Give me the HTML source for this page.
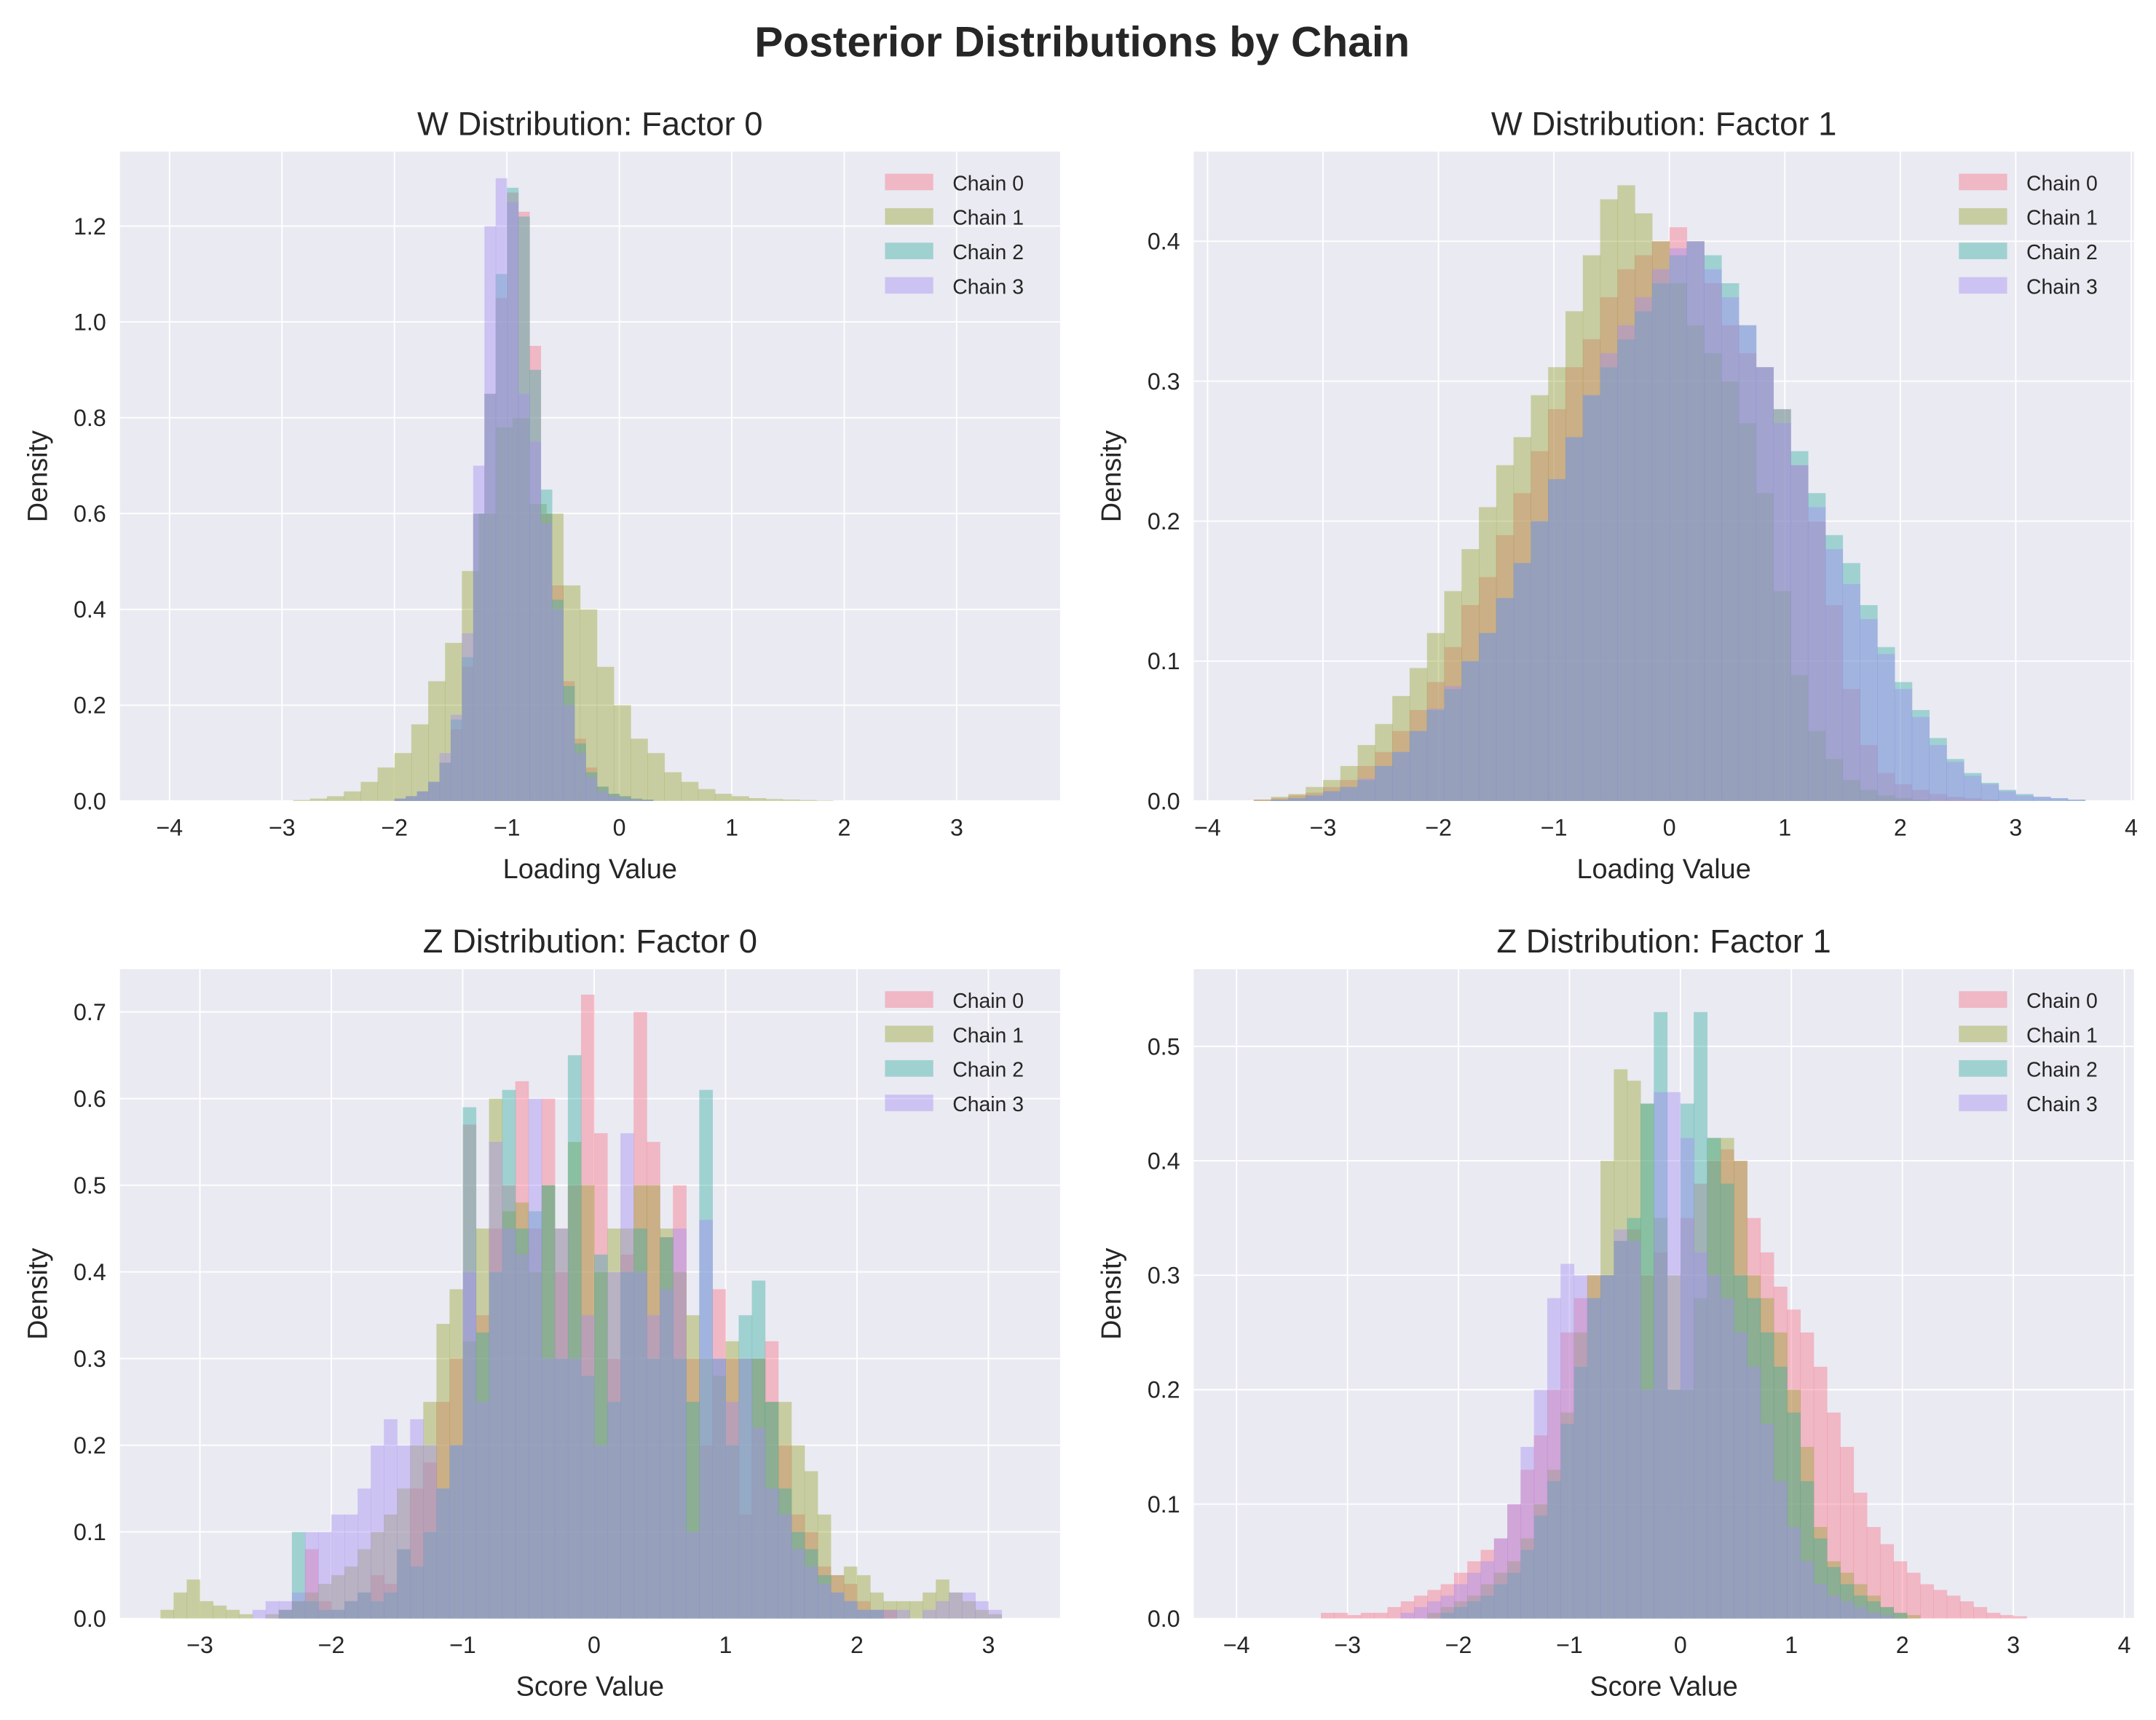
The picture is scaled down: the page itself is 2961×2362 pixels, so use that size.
<!DOCTYPE html>
<html><head><meta charset="utf-8"><style>
html,body{margin:0;padding:0;background:#fff;}
svg{display:block;font-family:"Liberation Sans",sans-serif;}
</style></head><body>
<svg id="chart" width="2961" height="2362" viewBox="0 0 1564 1247.6" xmlns="http://www.w3.org/2000/svg">
<rect width="1564" height="1248" fill="#fff"/>
<text x="785" y="41" text-anchor="middle" font-size="31" font-weight="bold" fill="#262626">Posterior Distributions by Chain</text>
</svg>
<script>
// ---- data ----
const chainNames = ["Chain 0","Chain 1","Chain 2","Chain 3"];
const chainColors = ["#f77189","#97a431","#36ada4","#a48cf4"];
// Panel 1: W Factor 0
const p1Start = [-2.0,-2.9,-2.0,-2.0];
const p1Width = [0.1,0.15,0.1,0.1];
const p1c0 = [0.005,0.01,0.02,0.04,0.08,0.15,0.28,0.6,0.85,1.05,1.27,1.23,0.95,0.6,0.45,0.25,0.13,0.07,0.03,0.015,0.01,0.005,0.003];
const p1c1 = [0.002,0.005,0.01,0.02,0.04,0.07,0.1,0.16,0.25,0.33,0.48,0.6,0.78,0.8,0.62,0.6,0.45,0.4,0.28,0.2,0.13,0.1,0.06,0.04,0.025,0.015,0.01,0.006,0.004,0.003,0.002,0.001];
const p1c2 = [0.005,0.01,0.02,0.04,0.08,0.17,0.3,0.6,0.85,1.1,1.28,1.22,0.9,0.65,0.42,0.24,0.12,0.06,0.03,0.015,0.01,0.005,0.003];
const p1c3 = [0.005,0.01,0.02,0.04,0.1,0.18,0.35,0.7,1.2,1.3,1.25,0.85,0.75,0.58,0.4,0.2,0.1,0.05,0.02,0.01,0.005,0.003,0.002];
// Panel 2: W Factor 1
const p2Start = [-3.6,-3.6,-3.6,-3.6];
const p2Width = [0.15,0.15,0.15,0.15];
const p2c0 = [0.001,0.002,0.004,0.006,0.01,0.015,0.025,0.035,0.05,0.065,0.085,0.11,0.14,0.16,0.19,0.22,0.25,0.28,0.31,0.33,0.36,0.38,0.39,0.40,0.41,0.40,0.37,0.34,0.32,0.31,0.28,0.24,0.20,0.14,0.08,0.04,0.02,0.012,0.008,0.005,0.003,0.002,0.001,0,0,0,0,0];
const p2c1 = [0.001,0.003,0.005,0.01,0.015,0.025,0.04,0.055,0.075,0.095,0.12,0.15,0.18,0.21,0.24,0.26,0.29,0.31,0.35,0.39,0.43,0.44,0.42,0.40,0.37,0.34,0.32,0.30,0.27,0.22,0.15,0.09,0.05,0.03,0.015,0.008,0.004,0.002,0.001,0,0,0,0,0,0,0,0,0];
const p2c2 = [0,0.001,0.002,0.004,0.007,0.01,0.015,0.025,0.035,0.05,0.065,0.08,0.10,0.12,0.145,0.17,0.20,0.23,0.26,0.29,0.31,0.33,0.35,0.37,0.39,0.40,0.39,0.37,0.34,0.31,0.28,0.25,0.22,0.19,0.17,0.14,0.11,0.085,0.065,0.045,0.03,0.02,0.013,0.008,0.005,0.003,0.002,0.001];
const p2c3 = [0,0.001,0.002,0.004,0.007,0.01,0.016,0.025,0.035,0.05,0.066,0.082,0.10,0.12,0.145,0.17,0.20,0.23,0.26,0.29,0.32,0.34,0.36,0.38,0.395,0.40,0.38,0.36,0.34,0.31,0.27,0.24,0.21,0.18,0.155,0.13,0.105,0.08,0.06,0.04,0.028,0.018,0.012,0.007,0.004,0.003,0.002,0.001];
// Panel 3: Z Factor 0
const p3Start = [-3.3,-3.3,-3.3,-3.3];
const p3Width = [0.1,0.1,0.1,0.1];
const p3c0 = [0,0,0,0,0,0,0,0,0,0.01, 0.02,0.08,0.02,0.01,0.02,0.03,0.05,0.04,0.08,0.15, 0.18,0.25,0.3,0.57,0.35,0.45,0.5,0.62,0.45,0.6, 0.4,0.5,0.72,0.56,0.3,0.42,0.7,0.55,0.44,0.5, 0.3,0.2,0.38,0.3,0.12,0.3,0.32,0.2,0.12,0.1, 0.06,0.05,0.04,0.02,0.01,0.01,0,0,0,0, 0,0,0,0,0,0];
const p3c1 = [0.01,0.03,0.045,0.02,0.015,0.01,0.005,0,0.005,0.01, 0.02,0.03,0.04,0.05,0.06,0.08,0.1,0.12,0.15,0.2, 0.25,0.34,0.38,0.32,0.45,0.6,0.47,0.48,0.4,0.5, 0.45,0.55,0.5,0.4,0.45,0.45,0.5,0.5,0.45,0.4, 0.35,0.3,0.28,0.32,0.3,0.3,0.25,0.25,0.2,0.17, 0.12,0.05,0.06,0.05,0.03,0.02,0.02,0.02,0.03,0.045, 0.03,0.02,0.01,0.005,0,0];
const p3c2 = [0,0,0,0,0,0,0,0,0,0.01, 0.1,0.02,0.01,0.01,0.02,0.03,0.02,0.03,0.08,0.06, 0.1,0.15,0.2,0.59,0.33,0.4,0.61,0.45,0.47,0.5, 0.3,0.65,0.28,0.42,0.25,0.4,0.45,0.3,0.44,0.3, 0.25,0.61,0.3,0.2,0.35,0.39,0.25,0.15,0.1,0.08, 0.05,0.03,0.02,0.01,0.01,0,0,0,0,0, 0,0,0,0,0,0];
const p3c3 = [0,0,0,0,0,0,0,0.01,0.02,0.02, 0.03,0.1,0.1,0.12,0.12,0.15,0.2,0.23,0.2,0.23, 0.2,0.15,0.2,0.4,0.25,0.55,0.45,0.42,0.6,0.3, 0.45,0.3,0.35,0.2,0.4,0.56,0.4,0.35,0.38,0.45, 0.1,0.46,0.3,0.25,0.3,0.22,0.15,0.12,0.08,0.06, 0.04,0.03,0.02,0.01,0.01,0.01,0.01,0,0.01,0.02, 0.03,0.03,0.02,0.01,0,0];
// Panel 4: Z Factor 1
const p4Start = [-3.6,-3.6,-3.6,-3.6];
const p4Width = [0.12,0.12,0.12,0.12];
const p4c0 = [0,0,0,0.005,0.005,0.003,0.005,0.005,0.01,0.015,0.02,0.025,0.03,0.04,0.05,0.06,0.07,0.1,0.13,0.16,0.2,0.25,0.28,0.3,0.3,0.33,0.34,0.3,0.32,0.2,0.35,0.38,0.4,0.41,0.4,0.35,0.32,0.29,0.27,0.25,0.22,0.18,0.15,0.11,0.08,0.065,0.05,0.04,0.03,0.025,0.02,0.015,0.01,0.005,0.003,0.002,0,0,0,0];
const p4c1 = [0,0,0,0,0,0,0,0,0,0,0,0.005,0.01,0.015,0.02,0.03,0.04,0.05,0.07,0.1,0.13,0.18,0.25,0.3,0.4,0.48,0.47,0.45,0.35,0.3,0.2,0.28,0.42,0.42,0.4,0.3,0.28,0.25,0.2,0.15,0.08,0.05,0.04,0.03,0.02,0.01,0.005,0.003,0,0,0,0,0,0,0,0,0,0,0,0];
const p4c2 = [0,0,0,0,0,0,0,0,0,0,0,0,0.005,0.01,0.015,0.02,0.03,0.04,0.06,0.09,0.12,0.17,0.22,0.28,0.3,0.33,0.35,0.45,0.53,0.2,0.45,0.53,0.42,0.38,0.3,0.28,0.25,0.22,0.18,0.12,0.07,0.045,0.03,0.02,0.015,0.01,0.005,0,0,0,0,0,0,0,0,0,0,0,0,0];
const p4c3 = [0,0,0,0,0,0,0,0,0,0.005,0.01,0.015,0.02,0.03,0.04,0.05,0.07,0.1,0.15,0.2,0.28,0.31,0.3,0.28,0.3,0.34,0.33,0.2,0.46,0.46,0.42,0.32,0.3,0.28,0.25,0.22,0.17,0.12,0.08,0.05,0.03,0.02,0.015,0.01,0.005,0.003,0,0,0,0,0,0,0,0,0,0,0,0,0,0];
const p1XTicks = [-4,-3,-2,-1,0,1,2,3];
const p1YTicks = [0,0.2,0.4,0.6,0.8,1.0,1.2];
const p2XTicks = [-4,-3,-2,-1,0,1,2,3,4];
const p2YTicks = [0,0.1,0.2,0.3,0.4];
const p3XTicks = [-3,-2,-1,0,1,2,3];
const p3YTicks = [0,0.1,0.2,0.3,0.4,0.5,0.6,0.7];
const p4XTicks = [-4,-3,-2,-1,0,1,2,3,4];
const p4YTicks = [0,0.1,0.2,0.3,0.4,0.5];

const NS = "http://www.w3.org/2000/svg";
const svg = document.getElementById("chart");
function mk(tag, attrs, parent){const e=document.createElementNS(NS,tag);for(const k in attrs)e.setAttribute(k,attrs[k]);(parent||svg).appendChild(e);return e;}

const panels = [
 {key:"w-factor-0",title:"W Distribution: Factor 0",xl:"Loading Value",L:87,R:769,T:110,B:581,x0v:-4,x0p:123,x1v:3,x1p:694,ymax:1.2,ymaxp:164,xt:p1XTicks,yt:p1YTicks,st:p1Start,w:p1Width,d:[p1c0,p1c1,p1c2,p1c3]},
 {key:"w-factor-1",title:"W Distribution: Factor 1",xl:"Loading Value",L:866,R:1548,T:110,B:581,x0v:-4,x0p:876,x1v:4,x1p:1546,ymax:0.4,ymaxp:175,xt:p2XTicks,yt:p2YTicks,st:p2Start,w:p2Width,d:[p2c0,p2c1,p2c2,p2c3]},
 {key:"z-factor-0",title:"Z Distribution: Factor 0",xl:"Score Value",L:87,R:769,T:703,B:1174,x0v:-3,x0p:145,x1v:3,x1p:717,ymax:0.7,ymaxp:734,xt:p3XTicks,yt:p3YTicks,st:p3Start,w:p3Width,d:[p3c0,p3c1,p3c2,p3c3]},
 {key:"z-factor-1",title:"Z Distribution: Factor 1",xl:"Score Value",L:866,R:1548,T:703,B:1174,x0v:-4,x0p:897,x1v:4,x1p:1541,ymax:0.5,ymaxp:759,xt:p4XTicks,yt:p4YTicks,st:p4Start,w:p4Width,d:[p4c0,p4c1,p4c2,p4c3]}
];

panels.forEach(p=>{
  const g = mk("g",{});
  
  
  const xs = v => p.x0p + (v-p.x0v)*(p.x1p-p.x0p)/(p.x1v-p.x0v);
  const ys = v => p.B - v*(p.B-p.ymaxp)/p.ymax;
  const bg = mk("rect",{x:p.L,y:p.T,width:p.R-p.L,height:p.B-p.T,fill:"#eaeaf2"},g);
  
  
  p.xt.forEach(t=>{
    const x=xs(t);
    mk("line",{x1:x,x2:x,y1:p.T,y2:p.B,stroke:"#fff","stroke-width":1},g);
    const lb=mk("text",{x:x,y:p.B+25,"text-anchor":"middle","font-size":17,fill:"#262626"},g);
    lb.textContent = t<0 ? "\u2212"+Math.abs(t) : String(t);
    
    
  });
  p.yt.forEach(t=>{
    const y=ys(t);
    mk("line",{x1:p.L,x2:p.R,y1:y,y2:y,stroke:"#fff","stroke-width":1},g);
    const lb=mk("text",{x:p.L-10,y:y+6,"text-anchor":"end","font-size":17,fill:"#262626"},g);
    lb.textContent = t.toFixed(1);
    
    
  });
  p.d.forEach((vals,ci)=>{
    const sg = mk("g",{},g);
    
    
    vals.forEach((v,i)=>{
      if(v<=0) return;
      const a = p.st[ci]+i*p.w[ci], b=a+p.w[ci];
      const r = mk("rect",{x:xs(a),y:ys(v),width:xs(b)-xs(a)+0.3,height:p.B-ys(v),fill:chainColors[ci],"fill-opacity":0.42},sg);
      
      
    });
  });
  const tt = mk("text",{x:(p.L+p.R)/2,y:p.T-12,"text-anchor":"middle","font-size":24,fill:"#262626"},g);
  tt.textContent = p.title;
  
  
  const xl = mk("text",{x:(p.L+p.R)/2,y:p.B+56,"text-anchor":"middle","font-size":20,fill:"#262626"},g);
  xl.textContent = p.xl;
  
  
  const cy=(p.T+p.B)/2, cx=p.L-53;
  const yl = mk("text",{x:cx,y:cy,"text-anchor":"middle","font-size":20,fill:"#262626",transform:`rotate(-90 ${cx} ${cy})`},g);
  yl.textContent = "Density";
  
  
  chainNames.forEach((n,ci)=>{
    const lg = mk("g",{},g);
    
    
    const y = p.T+16+ci*25;
    mk("rect",{x:p.R-127,y:y,width:35,height:12,fill:chainColors[ci],"fill-opacity":0.42},lg);
    const t = mk("text",{x:p.R-78,y:y+12,"font-size":15,fill:"#262626"},lg);
    t.textContent = n;
  });
});
</script>
</body></html>
